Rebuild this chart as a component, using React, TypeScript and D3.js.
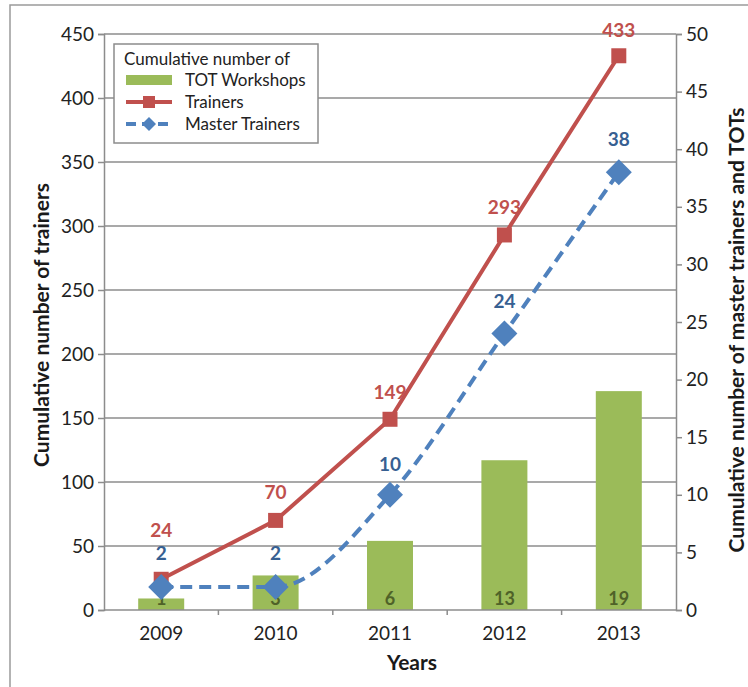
import React, { useEffect, useRef } from "react";
import * as d3 from "d3";

const years = ["2009", "2010", "2011", "2012", "2013"];
const trainers = [24, 70, 149, 293, 433];
const masterTrainers = [2, 2, 10, 24, 38];
const totWorkshops = [1, 3, 6, 13, 19];
const leftTicks = [0, 50, 100, 150, 200, 250, 300, 350, 400, 450];
const rightTicks = [0, 5, 10, 15, 20, 25, 30, 35, 40, 45, 50];

// label nudges (px above the marker), tuned by eye
const trainerLabelDy = [-42, -21, -20, -21, -19];
const masterLabelDy = [-27, -27, -24, -26, -26];

const W = 748;
const H = 687;
const FONT = "Lato, 'Open Sans', sans-serif";

export default function App() {
  const ref = useRef<SVGSVGElement>(null);

  useEffect(() => {
    const svg = d3.select(ref.current);
    const m = { top: 34, right: 72, bottom: 77, left: 104 };

    const band = d3.scaleBand().domain(years).range([m.left, W - m.right]);
    const cx = (d: string) => (band(d) as number) + band.bandwidth() / 2;

    const yL = d3.scaleLinear().domain([0, 450]).range([H - m.bottom, m.top]);
    const yR = d3.scaleLinear().domain([0, 50]).range([H - m.bottom, m.top]);

    // outer frame
    svg
      .append("rect")
      .attr("x", 10)
      .attr("y", 5)
      .attr("width", 900)
      .attr("height", 900)
      .attr("fill", "none")
      .attr("stroke", "#9a9a9a")
      .attr("stroke-width", 1.5);

    // gridlines
    svg
      .append("g")
      .selectAll("line")
      .data(leftTicks.filter(t => t > 0))
      .join("line")
      .attr("x1", m.left)
      .attr("x2", W - m.right)
      .attr("y1", d => yL(d))
      .attr("y2", d => yL(d))
      .attr("stroke", "#8c8c8c")
      .attr("stroke-width", 1.5);

    // bars
    svg
      .append("g")
      .selectAll("rect")
      .data(years)
      .join("rect")
      .attr("x", d => cx(d) - 23)
      .attr("width", 46)
      .attr("y", (d, i) => yR(totWorkshops[i]))
      .attr("height", (d, i) => yR(0) - yR(totWorkshops[i]))
      .attr("fill", "#9bbb59");

    // left axis
    svg
      .append("g")
      .attr("transform", `translate(${m.left},0)`)
      .call(d3.axisLeft(yL).tickValues(leftTicks).tickSize(6).tickPadding(4))
      .call(g => g.selectAll("path,line").attr("stroke", "#8c8c8c").attr("stroke-width", 1.5))
      .call(g =>
        g.selectAll(".tick text").attr("font-size", 19).attr("font-family", FONT).attr("fill", "#222")
      );

    // right axis
    svg
      .append("g")
      .attr("transform", `translate(${W - m.right},0)`)
      .call(d3.axisRight(yR).tickValues(rightTicks).tickSize(6).tickPadding(4))
      .call(g => g.selectAll("path,line").attr("stroke", "#8c8c8c").attr("stroke-width", 1.5))
      .call(g =>
        g.selectAll(".tick text").attr("font-size", 19).attr("font-family", FONT).attr("fill", "#222")
      );

    // bottom axis
    const xAxisG = svg.append("g").attr("transform", `translate(0,${H - m.bottom})`);
    xAxisG
      .append("line")
      .attr("x1", m.left)
      .attr("x2", W - m.right)
      .attr("stroke", "#8c8c8c")
      .attr("stroke-width", 1.5);
    xAxisG
      .selectAll("line.tk")
      .data(years.slice(1))
      .join("line")
      .attr("class", "tk")
      .attr("x1", d => band(d) as number)
      .attr("x2", d => band(d) as number)
      .attr("y1", 0)
      .attr("y2", 5)
      .attr("stroke", "#8c8c8c")
      .attr("stroke-width", 1.5);
    xAxisG
      .selectAll("text")
      .data(years)
      .join("text")
      .attr("x", d => cx(d))
      .attr("y", 30)
      .attr("text-anchor", "middle")
      .attr("font-size", 19)
      .attr("font-family", FONT)
      .attr("fill", "#222")
      .text(d => d);

    // bar labels
    svg
      .append("g")
      .selectAll("text")
      .data(years)
      .join("text")
      .attr("x", d => cx(d))
      .attr("y", H - m.bottom - 5)
      .attr("text-anchor", "middle")
      .attr("font-size", 18)
      .attr("font-weight", "bold")
      .attr("font-family", FONT)
      .attr("fill", "#4f6228")
      .text((d, i) => totWorkshops[i]);

    // trainers line
    const lineL = d3
      .line<number>()
      .x((d, i) => cx(years[i]))
      .y(d => yL(d));
    svg
      .append("path")
      .datum(trainers)
      .attr("d", lineL)
      .attr("fill", "none")
      .attr("stroke", "#c0504d")
      .attr("stroke-width", 4);
    svg
      .append("g")
      .selectAll("rect")
      .data(trainers)
      .join("rect")
      .attr("x", (d, i) => cx(years[i]) - 7.5)
      .attr("y", d => yL(d) - 7.5)
      .attr("width", 15)
      .attr("height", 15)
      .attr("fill", "#c0504d");

    // master trainers line
    const lineR = d3
      .line<number>()
      .x((d, i) => cx(years[i]))
      .y(d => yR(d))
      .curve(d3.curveMonotoneX);
    svg
      .append("path")
      .datum(masterTrainers)
      .attr("d", lineR)
      .attr("fill", "none")
      .attr("stroke", "#4f81bd")
      .attr("stroke-width", 4)
      .attr("stroke-dasharray", "12,7");
    svg
      .append("g")
      .selectAll("path")
      .data(masterTrainers)
      .join("path")
      .attr("transform", (d, i) => `translate(${cx(years[i])},${yR(d)})`)
      .attr("d", "M0,-13L13,0L0,13L-13,0Z")
      .attr("fill", "#4f81bd");

    // point labels
    svg
      .append("g")
      .selectAll("text")
      .data(trainers)
      .join("text")
      .attr("x", (d, i) => cx(years[i]))
      .attr("y", (d, i) => yL(d) + trainerLabelDy[i])
      .attr("text-anchor", "middle")
      .attr("font-size", 19)
      .attr("font-weight", "bold")
      .attr("font-family", FONT)
      .attr("fill", "#c0504d")
      .text(d => d);
    svg
      .append("g")
      .selectAll("text")
      .data(masterTrainers)
      .join("text")
      .attr("x", (d, i) => cx(years[i]))
      .attr("y", (d, i) => yR(d) + masterLabelDy[i])
      .attr("text-anchor", "middle")
      .attr("font-size", 19)
      .attr("font-weight", "bold")
      .attr("font-family", FONT)
      .attr("fill", "#376092")
      .text(d => d);

    // axis titles
    svg
      .append("text")
      .attr("transform", `translate(49,325) rotate(-90)`)
      .attr("text-anchor", "middle")
      .attr("font-size", 21)
      .attr("font-weight", "bold")
      .attr("font-family", FONT)
      .attr("fill", "#1a1a1a")
      .text("Cumulative number of trainers");
    svg
      .append("text")
      .attr("transform", `translate(744,330) rotate(-90)`)
      .attr("text-anchor", "middle")
      .attr("font-size", 21)
      .attr("font-weight", "bold")
      .attr("font-family", FONT)
      .attr("fill", "#1a1a1a")
      .text("Cumulative number of master trainers and TOTs");
    svg
      .append("text")
      .attr("x", 412)
      .attr("y", 670)
      .attr("text-anchor", "middle")
      .attr("font-size", 21)
      .attr("font-weight", "bold")
      .attr("font-family", FONT)
      .attr("fill", "#1a1a1a")
      .text("Years");

    // legend
    const lg = svg.append("g").attr("transform", "translate(114,44)");
    lg.append("rect")
      .attr("width", 204)
      .attr("height", 99)
      .attr("fill", "#fff")
      .attr("stroke", "#8c8c8c")
      .attr("stroke-width", 1.5);
    lg.append("text")
      .attr("x", 10)
      .attr("y", 21)
      .attr("font-size", 17)
      .attr("font-family", FONT)
      .attr("fill", "#222")
      .text("Cumulative number of");
    const items = ["TOT Workshops", "Trainers", "Master Trainers"];
    items.forEach((label, i) => {
      const yy = 36 + i * 22;
      if (i === 0) {
        lg.append("rect").attr("x", 12).attr("y", yy - 5).attr("width", 46).attr("height", 10).attr("fill", "#9bbb59");
      } else if (i === 1) {
        lg.append("line").attr("x1", 12).attr("x2", 58).attr("y1", yy).attr("y2", yy)
          .attr("stroke", "#c0504d").attr("stroke-width", 4);
        lg.append("rect").attr("x", 29).attr("y", yy - 6).attr("width", 12).attr("height", 12).attr("fill", "#c0504d");
      } else {
        lg.append("line").attr("x1", 12).attr("x2", 58).attr("y1", yy).attr("y2", yy)
          .attr("stroke", "#4f81bd").attr("stroke-width", 4).attr("stroke-dasharray", "10,6");
        lg.append("path").attr("transform", `translate(35,${yy})`).attr("d", "M0,-7L7,0L0,7L-7,0Z").attr("fill", "#4f81bd");
      }
      lg.append("text")
        .attr("x", 71)
        .attr("y", yy + 6)
        .attr("font-size", 17)
        .attr("font-family", FONT)
        .attr("fill", "#222")
        .text(label);
    });

    return () => {
      svg.html("");
    };
  }, []);

  return (
    <svg
      ref={ref}
      width={W}
      height={H}
      style={{ position: "absolute", left: 0, top: 0, background: "#fff" }}
    />
  );
}
